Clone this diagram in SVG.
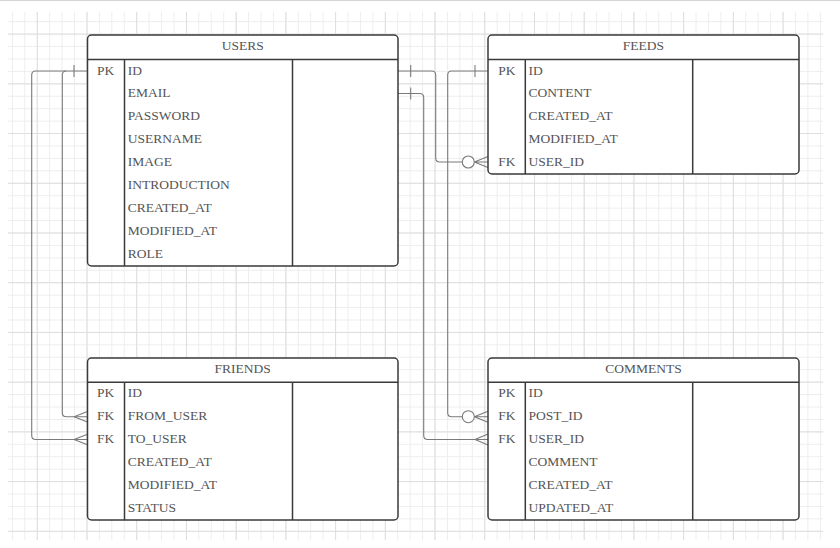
<svg xmlns="http://www.w3.org/2000/svg" width="840" height="548" viewBox="0 0 840 548">
<defs>
<pattern id="gmin" patternUnits="userSpaceOnUse" x="11.9" y="8.77" width="12.43" height="12.43">
<path d="M0.5 0V12.43M0 0.5H12.43" stroke="#ededed" stroke-width="1" fill="none"/>
</pattern>
<pattern id="gmaj" patternUnits="userSpaceOnUse" x="36.8" y="33.6" width="49.72" height="49.72">
<path d="M0.5 0V49.72M0 0.5H49.72" stroke="#dedede" stroke-width="1" fill="none"/>
</pattern>
</defs>
<style>
.tbl{fill:#ffffff;stroke:#3a3a3a;stroke-width:1.5}
.ln{stroke:#3a3a3a;stroke-width:1.5;fill:none}
.t{font-family:"Liberation Serif","Times New Roman",serif;font-size:13.5px;fill:#555555}
.h{text-anchor:middle}
.c{fill:none;stroke:#7a7a7a;stroke-width:1.1}
.o{fill:#ffffff;stroke:#7a7a7a;stroke-width:1.1}
</style>
<rect x="0" y="0" width="840" height="548" fill="#ffffff"/>
<line x1="0" y1="0.5" x2="840" y2="0.5" stroke="#d4d4d4" stroke-width="1"/>
<rect x="8" y="12" width="815" height="528" fill="url(#gmin)"/>
<rect x="8" y="12" width="815" height="528" fill="url(#gmaj)"/>

<g id="connectors">
<!-- USERS.ID -> FEEDS.USER_ID -->
<path class="c" d="M398 71H431.7Q435.7 71 435.7 75V158Q435.7 162 439.7 162H462.3"/>
<path class="c" d="M410.7 65V77"/>
<circle class="o" cx="468.3" cy="162" r="6"/>
<path class="c" d="M474.3 162H488M474.3 162L488 156.5M474.3 162L488 167.5"/>
<!-- USERS.EMAIL -> COMMENTS.USER_ID -->
<path class="c" d="M398 93.5H419.7Q423.7 93.5 423.7 97.5V435.5Q423.7 439.5 427.7 439.5H488"/>
<path class="c" d="M410.7 87.5V99.5"/>
<path class="c" d="M475 439.5L488 434M475 439.5L488 445"/>
<!-- FEEDS.ID -> COMMENTS.POST_ID -->
<path class="c" d="M488 71H451.7Q447.7 71 447.7 75V412.7Q447.7 416.7 451.7 416.7H462.3"/>
<path class="c" d="M475 65V77"/>
<circle class="o" cx="468.3" cy="416.7" r="6"/>
<path class="c" d="M474.3 416.7H488M474.3 416.7L488 411.2M474.3 416.7L488 422.2"/>
<!-- USERS.ID -> FRIENDS.FROM_USER -->
<path class="c" d="M87.5 71H66.3Q62.3 71 62.3 75V412.7Q62.3 416.7 66.3 416.7H87.5"/>
<path class="c" d="M74 416.7L87.5 411.5M74 416.7L87.5 421.9"/>
<!-- USERS.ID -> FRIENDS.TO_USER -->
<path class="c" d="M66 71H35.7Q31.7 71 31.7 75V435.5Q31.7 439.5 35.7 439.5H87.5"/>
<path class="c" d="M74 439.5L87.5 434.3M74 439.5L87.5 444.7"/>
<path class="c" d="M74 65V77"/>
</g>

<g id="users">
<rect class="tbl" x="87.5" y="35" width="310.5" height="231" rx="4"/>
<path class="ln" d="M87.5 59.5H398M124.5 59.5V266M292.5 59.5V266"/>
<text class="t h" x="242.7" y="50">USERS</text>
<text class="t" x="97" y="74.5">PK</text>
<text class="t" x="127.7" y="74.5">ID</text>
<text class="t" x="127.7" y="97.4">EMAIL</text>
<text class="t" x="127.7" y="120.3">PASSWORD</text>
<text class="t" x="127.7" y="143.2">USERNAME</text>
<text class="t" x="127.7" y="166.1">IMAGE</text>
<text class="t" x="127.7" y="189">INTRODUCTION</text>
<text class="t" x="127.7" y="211.9">CREATED_AT</text>
<text class="t" x="127.7" y="234.8">MODIFIED_AT</text>
<text class="t" x="127.7" y="257.7">ROLE</text>
</g>

<g id="feeds">
<rect class="tbl" x="488" y="35" width="311" height="139" rx="4"/>
<path class="ln" d="M488 59.5H799M525.3 59.5V174M692.7 59.5V174"/>
<text class="t h" x="643.5" y="50">FEEDS</text>
<text class="t" x="498.3" y="74.5">PK</text>
<text class="t" x="528.6" y="74.5">ID</text>
<text class="t" x="528.6" y="97.4">CONTENT</text>
<text class="t" x="528.6" y="120.3">CREATED_AT</text>
<text class="t" x="528.6" y="143.2">MODIFIED_AT</text>
<text class="t" x="498.3" y="166.1">FK</text>
<text class="t" x="528.6" y="166.1">USER_ID</text>
</g>

<g id="friends">
<rect class="tbl" x="87.5" y="358" width="310.5" height="162" rx="4"/>
<path class="ln" d="M87.5 382.3H398M124.5 382.3V520M292.5 382.3V520"/>
<text class="t h" x="242.7" y="373">FRIENDS</text>
<text class="t" x="97" y="397">PK</text>
<text class="t" x="127.7" y="397">ID</text>
<text class="t" x="97" y="419.9">FK</text>
<text class="t" x="127.7" y="419.9">FROM_USER</text>
<text class="t" x="97" y="442.8">FK</text>
<text class="t" x="127.7" y="442.8">TO_USER</text>
<text class="t" x="127.7" y="465.7">CREATED_AT</text>
<text class="t" x="127.7" y="488.6">MODIFIED_AT</text>
<text class="t" x="127.7" y="511.5">STATUS</text>
</g>

<g id="comments">
<rect class="tbl" x="488" y="358" width="311" height="162" rx="4"/>
<path class="ln" d="M488 382.3H799M525.3 382.3V520M692.7 382.3V520"/>
<text class="t h" x="643.5" y="373">COMMENTS</text>
<text class="t" x="498.3" y="397">PK</text>
<text class="t" x="528.6" y="397">ID</text>
<text class="t" x="498.3" y="419.9">FK</text>
<text class="t" x="528.6" y="419.9">POST_ID</text>
<text class="t" x="498.3" y="442.8">FK</text>
<text class="t" x="528.6" y="442.8">USER_ID</text>
<text class="t" x="528.6" y="465.7">COMMENT</text>
<text class="t" x="528.6" y="488.6">CREATED_AT</text>
<text class="t" x="528.6" y="511.5">UPDATED_AT</text>
</g>
</svg>
